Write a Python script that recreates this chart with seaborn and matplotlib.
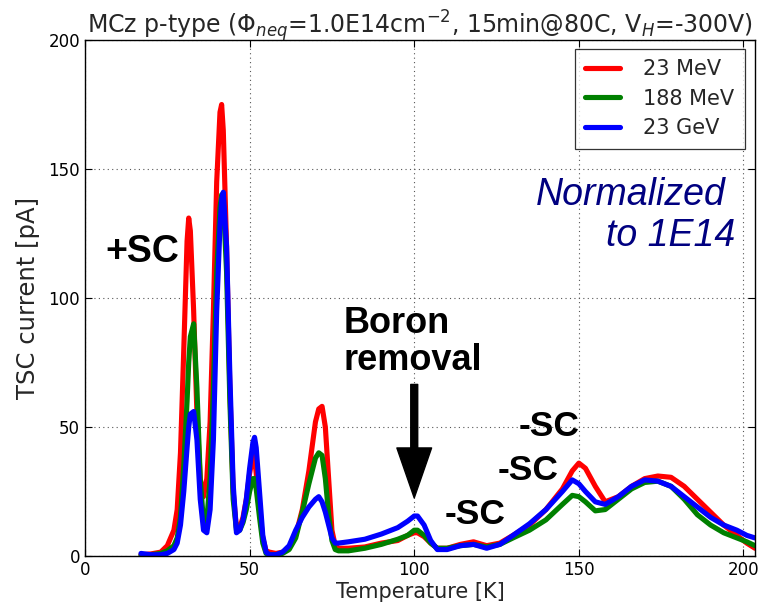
import numpy as np
import pandas as pd
import matplotlib
matplotlib.use("Agg")
import matplotlib.pyplot as plt
import seaborn as sns

# ---- data ----
temperature = [17, 20, 23, 25, 27, 28, 29, 30, 31, 31.5, 32, 33, 34, 35, 36, 37, 38, 39, 40, 41,
               41.5, 42, 43, 44, 45, 46, 47, 48, 49, 50, 51, 51.5, 52, 53, 54, 55, 56, 58, 60, 62,
               64, 66, 68, 70, 71, 72, 73, 74, 75, 76, 77, 80, 85, 90, 95, 98, 100, 101, 103, 105,
               107, 110, 114, 118, 122, 126, 130, 135, 140, 145, 148, 150, 152, 155, 158, 162, 166,
               170, 174, 178, 182, 186, 190, 194, 198, 201, 203.5]

red_23MeV = [0.5, 0.8, 1.5, 4, 10, 18, 40, 80, 122, 131, 126, 95, 55, 30, 23, 30, 52, 95, 145, 172,
             175, 165, 120, 65, 25, 11, 11, 15, 22, 32, 39, 38, 32, 18, 7, 2, 1.5, 1, 1.5, 3,
             8, 18, 33, 52, 57, 58, 50, 30, 10, 4, 3, 3, 3.5, 5, 6, 8, 9, 9, 7.5, 5,
             3, 3, 4.5, 5.5, 4, 5, 8, 12, 18, 26, 33, 36, 34, 27, 21, 23, 27,
             30, 31, 30.5, 27, 22, 17, 12, 8, 5, 3]

green_188MeV = [0.3, 0.5, 1, 2, 4, 7, 15, 35, 60, 75, 85, 90, 65, 30, 13, 14, 30, 65, 110, 135,
                140, 138, 110, 60, 22, 10, 10, 13, 18, 25, 30, 30, 26, 15, 5, 1, 0.5, 0.5, 1, 2.5,
                7, 17, 28, 38, 40, 39, 30, 16, 6, 2.5, 2, 2, 3, 4.5, 6.5, 8, 10, 10, 8, 5,
                3, 3, 4, 4.5, 3.5, 4.5, 7, 10, 14, 20, 23.5, 23, 21, 17.5, 18, 22, 26,
                28.5, 29, 27, 22, 16, 12, 9, 7, 5.5, 4]

blue_23GeV = [1, 0.5, 0.5, 1, 2.5, 5, 12, 25, 42, 50, 55, 56, 45, 22, 10, 9, 18, 45, 95, 128,
              138, 141, 120, 70, 28, 9, 10, 14, 22, 34, 44, 46, 42, 25, 8, 1.5, 0.5, 0.5, 1.5, 4,
              10, 15, 19, 22, 23, 21, 17, 12, 7, 5, 5, 5.5, 6.5, 8.5, 11, 13.5, 15.5, 15.5, 12, 6,
              2.5, 2.5, 4, 4.5, 3, 4.5, 8, 12.5, 18, 25, 29.5, 28, 25, 21, 20, 23, 27,
              29.5, 29, 27, 23, 19, 15, 12, 10, 8, 7]

series_names = ["23 MeV", "188 MeV", "23 GeV"]
series_colors = ["#ff0000", "#008000", "#0000ff"]

x_ticks = [0, 50, 100, 150, 200]
y_ticks = [0, 50, 100, 150, 200]

df = pd.concat([
    pd.DataFrame({"T": temperature, "I": vals, "series": name})
    for name, vals in zip(series_names, [red_23MeV, green_188MeV, blue_23GeV])
])

# ---- figure ----
sns.set_style("ticks")
plt.rcParams["font.family"] = ["DejaVu Sans"]
plt.rcParams["xtick.direction"] = "in"
plt.rcParams["ytick.direction"] = "in"

fig = plt.figure(figsize=(7.58, 6.11), dpi=100)
ax = fig.add_axes([85 / 758, 55 / 611, 670 / 758, 516 / 611])

sns.lineplot(data=df, x="T", y="I", hue="series", hue_order=series_names,
             palette=dict(zip(series_names, series_colors)), sort=False,
             linewidth=3.7, ax=ax, estimator=None)

ax.set_xlim(0, 203.5)
ax.set_ylim(0, 200)
ax.set_xticks(x_ticks)
ax.set_yticks(y_ticks)
ax.tick_params(axis="both", labelsize=12, direction="in", top=True, right=True,
               length=5, width=0.8, colors="black")
for s in ax.spines.values():
    s.set_color("black")
    s.set_linewidth(1.0)
ax.grid(True, linestyle=(0, (1, 3)), color="#555555", linewidth=0.8)

ax.set_xlabel("Temperature [K]", fontsize=15, labelpad=2)
ax.set_ylabel("TSC current [pA]", fontsize=17.5, labelpad=6)
ax.set_title(r"MCz p-type ($\Phi_{neq}$=1.0E14cm$^{-2}$, 15min@80C, V$_{H}$=-300V)",
             fontsize=17, pad=5)

leg = ax.legend(loc="upper right", fontsize=15, frameon=True, fancybox=False,
                handlelength=1.7, borderpad=0.5, labelspacing=0.45, handletextpad=1.1,
                borderaxespad=0, bbox_to_anchor=(0.985, 0.9826))
leg.get_frame().set_edgecolor("black")
leg.get_frame().set_linewidth(0.9)
for h in leg.get_lines():
    h.set_linewidth(3.7)

bold = dict(fontfamily="Liberation Sans", fontweight="bold", color="black")
ax.text(17.3, 118, "+SC", fontsize=27, ha="center", va="center", **bold)
ax.text(78.5, 83, "Boron\nremoval", fontsize=26, ha="left", va="center",
        linespacing=1.05, **bold)
ax.annotate("", xy=(100, 22.5), xytext=(100, 66.5),
            arrowprops=dict(facecolor="black", edgecolor="black", width=5,
                            headwidth=25, headlength=36, shrink=0))
ax.text(118.5, 16, "-SC", fontsize=25.5, ha="center", va="center", **bold)
ax.text(134.5, 33, "-SC", fontsize=25.5, ha="center", va="center", **bold)
ax.text(141, 50, "-SC", fontsize=25.5, ha="center", va="center", **bold)

ital = dict(fontfamily="Liberation Sans", fontstyle="italic", color="#000080")
ax.text(194.5, 140, "Normalized", fontsize=27, ha="right", va="center", **ital)
ax.text(197.5, 124, "to 1E14", fontsize=27, ha="right", va="center", **ital)

fig.savefig("out.png", dpi=100)
